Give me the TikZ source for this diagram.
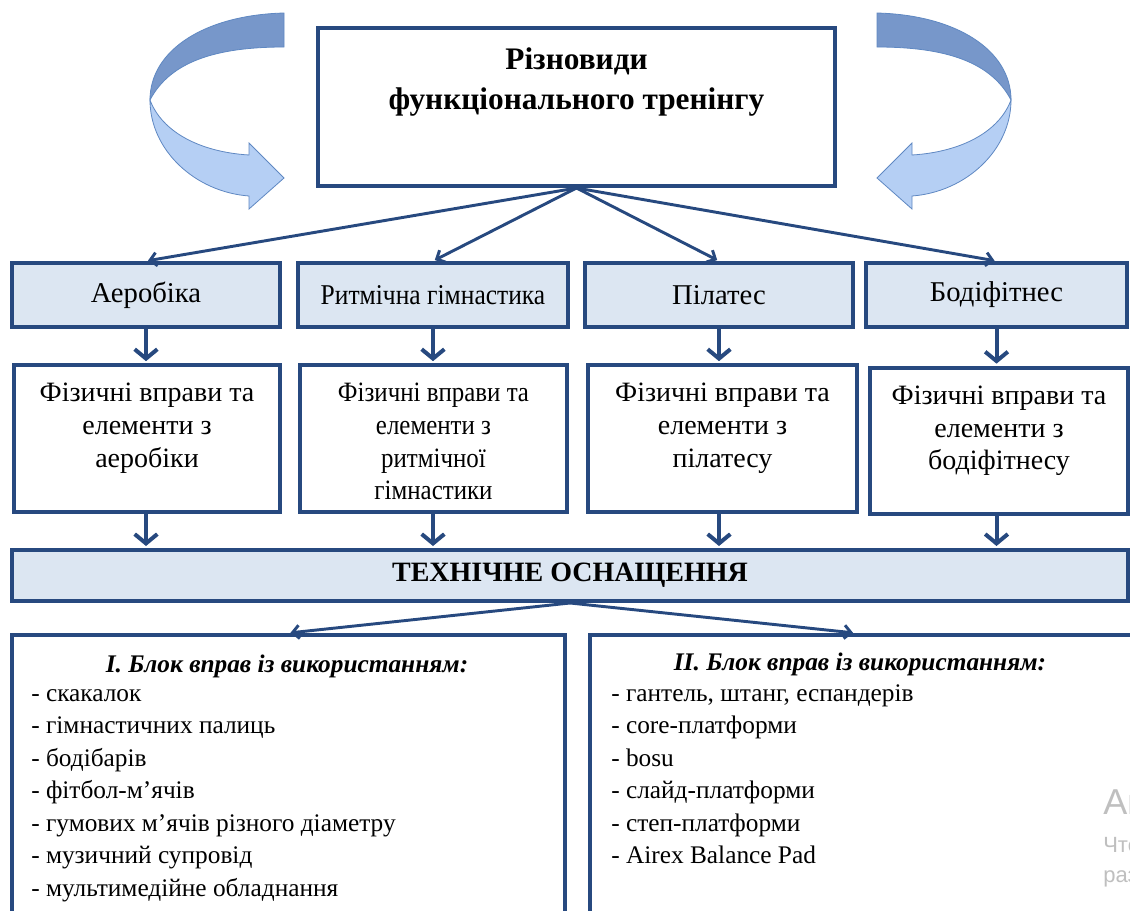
\documentclass[tikz,border=0pt]{standalone}
\usepackage{fontspec}
\usepackage{graphicx}
\setmainfont{Liberation Serif}
\newfontfamily\wmfont{Liberation Sans}
\usetikzlibrary{positioning,arrows.meta}

\definecolor{boxblue}{HTML}{27497F}
\definecolor{boxfill}{HTML}{DCE6F2}
\definecolor{ribbondk}{HTML}{7797CA}
\definecolor{ribbonlt}{HTML}{B5CFF4}
\definecolor{ribbonln}{HTML}{5F88C2}

\newcommand{\narrow}[1]{\scalebox{0.89}[1]{#1}}

\begin{document}
\begin{tikzpicture}[
    x=0.75pt, y=-0.75pt,
    every node/.style={font=\fontsize{19}{24.4}\selectfont, inner sep=0pt},
    kind/.style={draw=boxblue, line width=3pt, fill=boxfill,
                 minimum width=201pt, minimum height=48pt,
                 font=\fontsize{21.5}{24.4}\selectfont},
    frame/.style={draw=boxblue, line width=3pt, fill=white,
                  minimum width=200pt, minimum height=110pt},
    frametext/.style={align=center, font=\fontsize{21}{24.4}\selectfont},
    fan/.style={-{Straight Barb[length=5pt,width=10pt]}, line width=2.2pt,
                draw=boxblue, shorten >=1.5pt},
    down/.style={-{Straight Barb[length=7pt,width=17pt]}, line width=3pt,
                 draw=boxblue, shorten >=1.5pt},
    head/.style={font=\fontsize{19}{24.4}\selectfont\bfseries\itshape},
    items/.style={align=left, anchor=north west},
    wm/.style={text=black!25, anchor=base west},
    ribbonback/.style={fill=ribbondk, draw=ribbonln, line width=0.6pt},
    ribbonfront/.style={fill=ribbonlt, draw=ribbonln, line width=0.6pt},
]
\useasboundingbox (0,0) rectangle (1130,910);
\clip (0,0) rectangle (1130,910);

% curled arrows
\foreach \sx/\dx in {1/0, -1/1161} {
  \begin{scope}[shift={(\dx,0)}, xscale=\sx]
    \filldraw[ribbonback] (284,13) .. controls (205,15) and (150,50) .. (150,100)
      .. controls (170,62) and (215,47) .. (284,47) -- cycle;
    \filldraw[ribbonfront] (150,100) .. controls (150,150) and (195,192) .. (249,196)
      -- (249,209) -- (284,178) -- (249,143) -- (249,155)
      .. controls (200,152) and (162,132) .. (150,100) -- cycle;
  \end{scope}
}

% title
\node[draw=boxblue, line width=3pt, minimum width=387.75pt,
      minimum height=118.5pt] (top) at (576.5,107) {};
\node[align=center, font=\fontsize{23.5}{30}\selectfont\bfseries] (title) at (576.5,82)
    {Різновиди\\функціонального тренінгу};

% kinds
\node[kind] (b1) at (146,295) {Аеробіка};
\node[kind, minimum width=202.5pt] (b2) at (433,295) {\narrow{Ритмічна гімнастика}};
\node[kind] (b3) at (719,295) {Пілатес};
\node[kind, minimum width=196pt] (b4) at (996.5,295) {Бодіфітнес};

\foreach \i in {1,2,3,4}
  \draw[fan] (top.south) -- (b\i.north);

% exercises
\node[frame, minimum width=199.5pt] (c1) at (147,438.5) {};
\node[frame] (c2) at (433.5,438.5) {};
\node[frame, minimum width=201.75pt] (c3) at (722.5,438.5) {};
\node[frame, minimum width=193.5pt] (c4) at (999,441) {};

\node[frametext, below=15pt of c1.north] (t1) {Фізичні вправи та\\елементи з\\аеробіки};
\node[frametext, below=15pt of c2.north] (t2)
    {\narrow{Фізичні вправи та}\\\narrow{елементи з}\\\narrow{ритмічної}\\\narrow{гімнастики}};
\node[frametext, below=15pt of c3.north] (t3) {Фізичні вправи та\\елементи з\\пілатесу};
\node[frametext, below=15pt of c4.north] (t4) {Фізичні вправи та\\елементи з\\бодіфітнесу};

\foreach \i in {1,2,3,4}
  \draw[down] (b\i.south) -- (b\i.south |- c\i.north);

% equipment
\node[kind, minimum width=837pt, minimum height=38.25pt,
      font=\fontsize{21}{24}\selectfont\bfseries] (bar) at (570,575.5)
    {ТЕХНІЧНЕ ОСНАЩЕННЯ};

\foreach \i in {1,2,3,4}
  \draw[down] (c\i.south -| b\i.south) -- (b\i.south |- bar.north);

% blocks
\node[frame, minimum width=415pt, minimum height=247.5pt] (d1) at (288.5,800) {};
\node[frame, minimum width=412.5pt, minimum height=247.5pt] (d2) at (865,800) {};

\draw[fan] (bar.south) -- (d1.north);
\draw[fan] (bar.south) -- ([xshift=-7.5pt]d2.north);

\node[head] (h1) at (287,666) {I. Блок вправ із використанням:};
\node[items] (l1) at (31,689)
    {- скакалок\\- гімнастичних палиць\\- бодібарів\\- фітбол-м’ячів\\%
     - гумових м’ячів різного діаметру\\- музичний супровід\\- мультимедійне обладнання};

\node[head] (h2) at (860,664) {II. Блок вправ із використанням:};
\node[items] (l2) at (611,684)
    {- гантель, штанг, еспандерів\\- core-платформи\\- bosu\\%
     - слайд-платформи\\- степ-платформи\\- Airex Balance Pad};

% watermark
\node[wm, font=\wmfont\fontsize{27}{30}\selectfont] (wm1) at (1103,814) {Активация Windows};
\node[wm, font=\wmfont\fontsize{16.5}{20}\selectfont] (wm2) at (1103,852)
    {Чтобы активировать Windows, перейдите в};
\node[wm, font=\wmfont\fontsize{16.5}{20}\selectfont] (wm3) at (1103,882)
    {раздел «Параметры».};
\end{tikzpicture}
\end{document}
